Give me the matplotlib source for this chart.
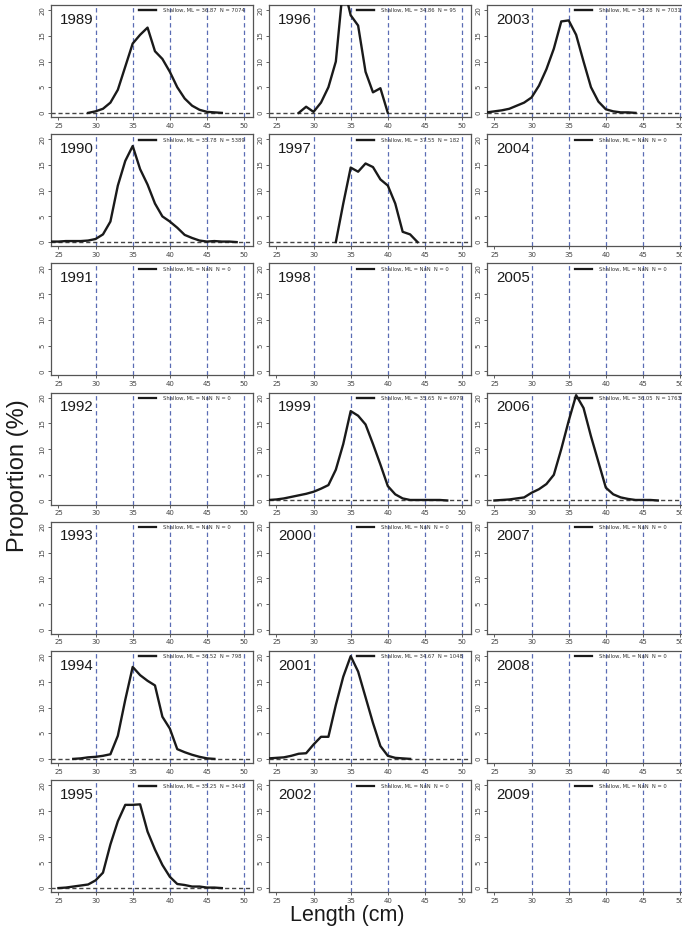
import numpy as np
import matplotlib
matplotlib.use('Agg')
import matplotlib.pyplot as plt

# length bins (cm)
lengths = list(range(24, 52))

# proportions (%) per year; None = no samples
p1989 = [0, 0, 0, 0, 0, 0, 0.3, 0.8, 2.0, 4.5, 9.0, 13.5, 15.2, 16.6, 12.0, 10.5, 8.0, 5.0, 2.8, 1.4, 0.6, 0.2, 0.1, 0, 0, 0, 0, 0]
p1990 = [0.1, 0.1, 0.2, 0.2, 0.2, 0.3, 0.6, 1.5, 4.0, 11.0, 15.8, 18.7, 14.2, 11.2, 7.5, 5.0, 4.0, 2.8, 1.4, 0.8, 0.3, 0.1, 0.2, 0.1, 0.1, 0, 0, 0]
p1994 = [0, 0, 0, 0, 0.1, 0.3, 0.4, 0.6, 0.9, 4.5, 11.5, 17.9, 16.3, 15.2, 14.3, 8.2, 5.9, 1.9, 1.3, 0.8, 0.4, 0.1, 0, 0, 0, 0, 0, 0]
p1995 = [0, 0, 0.1, 0.3, 0.5, 0.7, 1.5, 3.0, 8.5, 13.0, 16.2, 16.2, 16.3, 11.0, 7.5, 4.5, 2.2, 0.8, 0.6, 0.3, 0.3, 0.1, 0.1, 0, 0, 0, 0, 0]
p1996 = [0, 0, 0, 0, 0, 1.2, 0.2, 2.0, 5.0, 10.0, 25.0, 19.0, 17.0, 8.0, 4.0, 4.8, 0, 0, 0, 0, 0, 0, 0, 0, 0, 0, 0, 0]
p1997 = [0, 0, 0, 0, 0, 0, 0, 0, 0, 0, 7.5, 14.5, 13.7, 15.3, 14.6, 12.2, 11.0, 7.5, 2.0, 1.5, 0, 0, 0, 0, 0, 0, 0, 0]
p1999 = [0.1, 0.2, 0.4, 0.7, 1.0, 1.3, 1.7, 2.3, 3.0, 6.0, 11.0, 17.4, 16.5, 14.8, 11.0, 7.0, 2.8, 1.2, 0.4, 0.1, 0.1, 0.1, 0.1, 0.1, 0, 0, 0, 0]
p2001 = [0.1, 0.2, 0.3, 0.6, 1.0, 1.1, 2.8, 4.3, 4.3, 10.5, 16.0, 20.0, 17.0, 12.0, 7.0, 2.5, 0.6, 0.2, 0.1, 0, 0, 0, 0, 0, 0, 0, 0, 0]
p2003 = [0.1, 0.3, 0.5, 0.8, 1.4, 2.0, 3.0, 5.3, 8.5, 12.5, 17.8, 18.0, 15.2, 10.0, 5.0, 2.2, 0.7, 0.3, 0.1, 0.1, 0, 0, 0, 0, 0, 0, 0, 0]
p2006 = [0, 0, 0.1, 0.2, 0.4, 0.6, 1.5, 2.2, 3.2, 5.0, 10.0, 15.5, 20.5, 18.0, 12.5, 7.5, 2.5, 1.2, 0.6, 0.3, 0.1, 0.1, 0.1, 0, 0, 0, 0, 0]

years = [[1989, 1996, 2003],
         [1990, 1997, 2004],
         [1991, 1998, 2005],
         [1992, 1999, 2006],
         [1993, 2000, 2007],
         [1994, 2001, 2008],
         [1995, 2002, 2009]]

props = {1989: p1989, 1990: p1990, 1994: p1994, 1995: p1995, 1996: p1996,
         1997: p1997, 1999: p1999, 2001: p2001, 2003: p2003, 2006: p2006}
mean_len = {1989: '36.87', 1990: '35.78', 1994: '36.52', 1995: '35.25', 1996: '34.86',
            1997: '37.55', 1999: '35.65', 2001: '34.67', 2003: '34.28', 2006: '36.05'}
n_fish = {1989: '7074', 1990: '5389', 1994: '798', 1995: '3441', 1996: '95',
          1997: '182', 1999: '6979', 2001: '1048', 2003: '7031', 2006: '1763'}

ref_lines = [30, 35, 40, 45, 50]

W, H = 682, 936
fig = plt.figure(figsize=(W / 100, H / 100), dpi=100)

col_left = [51, 269, 487]
ax_w, ax_h = 202, 112
row_top = [5 + i * 129.2 for i in range(7)]

for r, row in enumerate(years):
    for c, year in enumerate(row):
        ax = fig.add_axes([col_left[c] / W, 1 - (row_top[r] + ax_h) / H, ax_w / W, ax_h / H])
        ax.set_xlim(24, 51.2)
        ax.set_ylim(-0.8, 21)
        for v in ref_lines:
            ax.axvline(v, color='#5a6cb4', ls=(0, (3.5, 2.5)), lw=0.9, zorder=1)

        if year in props:
            y = np.array(props[year], dtype=float)
            pos = y > 0
            keep = pos | np.roll(pos, 1) | np.roll(pos, -1)
            y_solid = np.where(keep, y, np.nan)
            ax.plot(lengths, np.zeros(len(lengths)), color='#444444', ls=(0, (3, 2)), lw=1.0, zorder=2)
            label = f"Shallow, ML = {mean_len[year]}  N = {n_fish[year]}"
            ax.plot(lengths, y_solid, color='#1a1a1a', lw=1.7, zorder=3, label=label)
        else:
            ax.plot([], [], color='#1a1a1a', lw=1.6, label="Shallow, ML = NaN  N = 0")

        leg = ax.legend(loc='upper left', bbox_to_anchor=(0.43, 0.985), frameon=False,
                        fontsize=3.8, handlelength=3.2, handletextpad=1.2, borderpad=0.3,
                        borderaxespad=0)
        for t in leg.get_texts():
            t.set_color('#333333')

        ax.text(0.045, 0.87, str(year), transform=ax.transAxes, fontsize=10.8,
                family='Liberation Sans', va='center', ha='left', color='#1a1a1a')

        ax.set_xticks([25, 30, 35, 40, 45, 50])
        ax.set_yticks([0, 5, 10, 15, 20])
        ax.tick_params(length=2.5, width=0.6, pad=1.5, labelsize=5, colors='#444444')
        for lab in ax.get_yticklabels():
            lab.set_rotation(90)
            lab.set_va('center')
        for s in ax.spines.values():
            s.set_linewidth(0.9)
            s.set_color('#555555')

fig.text(18 / W, 1 - 476 / H, 'Proportion (%)', rotation=90, fontsize=17,
         family='Liberation Sans', ha='center', va='center', color='#1a1a1a')
fig.text(347 / W, 1 - 915 / H, 'Length (cm)', fontsize=15.5,
         family='Liberation Sans', ha='center', va='center', color='#1a1a1a')

fig.savefig('out.png', dpi=100)
